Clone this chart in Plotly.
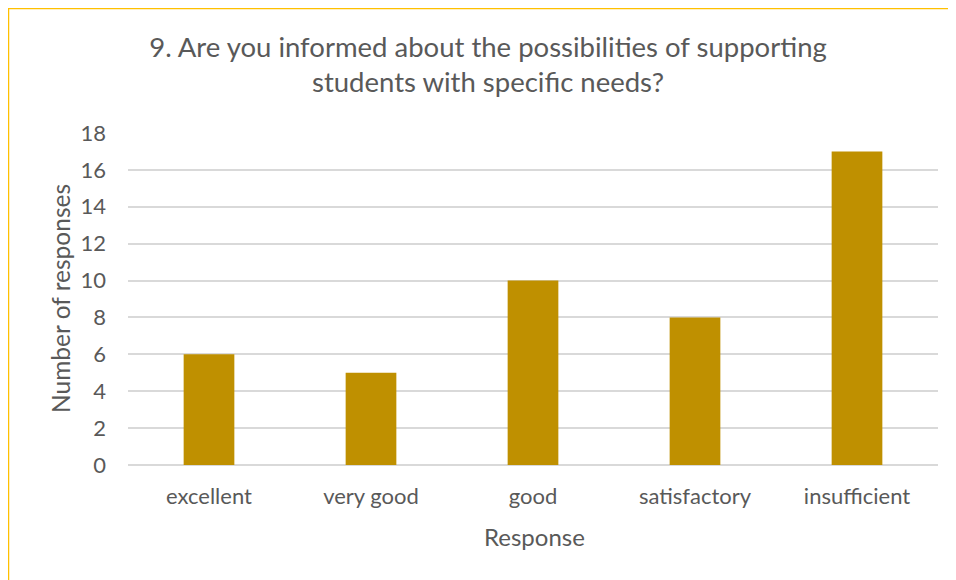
import plotly.graph_objects as go

categories = ["excellent", "very good", "good", "satisfactory", "insufficient"]
values = [6, 5, 10, 8, 17]
y_ticks = [0, 2, 4, 6, 8, 10, 12, 14, 16, 18]

# the page body adds an 8px offset; positions below are in figure pixels
OFF = 8
W, H = 956, 580
L, R, T, B = 128 - OFF, 956 - 938 + OFF, 133 - OFF, 580 - 465 + OFF
pw, ph = W - L - R, H - T - B

def px(x):
    return (x - OFF - L) / pw

def py(y):
    return (H - B - (y - OFF)) / ph

FONT = "Lato"
GREY = "#595959"

fig = go.Figure(go.Bar(x=categories, y=values, marker_color="#BF9000",
                       marker_line_width=0, width=0.313))

fig.update_layout(
    width=W, height=H,
    margin=dict(l=L, r=R, t=T, b=B),
    paper_bgcolor="white", plot_bgcolor="white",
    font=dict(family=FONT, color=GREY),
    showlegend=False,
    title=dict(text="9. Are you informed about the possibilities of supporting<br>students with specific needs?",
               x=(488 - OFF) / W, xanchor="center", y=1 - (56.5 - OFF) / H, yanchor="middle",
               font=dict(size=27.5, color=GREY, family=FONT)),
    xaxis=dict(tickfont=dict(size=22, color=GREY), showgrid=False,
               showline=False, ticks="", ticklabelstandoff=16),
    yaxis=dict(range=[0, 18], tickvals=y_ticks, tickfont=dict(size=22, color=GREY),
               showgrid=True, gridcolor="#D9D9D9", gridwidth=1.5, zeroline=True,
               zerolinecolor="#D9D9D9", zerolinewidth=1.5, ticks="", ticklabelstandoff=21),
    annotations=[
        dict(text="Response", xref="paper", yref="paper", x=px(534), y=py(536),
             xanchor="center", yanchor="middle", showarrow=False,
             font=dict(size=24, color=GREY, family=FONT)),
        dict(text="Number of responses", xref="paper", yref="paper", x=px(60), y=py(299),
             xanchor="center", yanchor="middle", showarrow=False, textangle=-90,
             font=dict(size=24.5, color=GREY, family=FONT)),
    ],
    shapes=[
        dict(type="line", xref="paper", yref="paper", x0=px(8), x1=px(970), y0=py(8.5), y1=py(8.5),
             line=dict(color="#FFC000", width=1.5)),
        dict(type="line", xref="paper", yref="paper", x0=px(8.5), x1=px(8.5), y0=py(8), y1=py(600),
             line=dict(color="#FFC000", width=1.5)),
    ],
)

fig.write_html("out.html")
